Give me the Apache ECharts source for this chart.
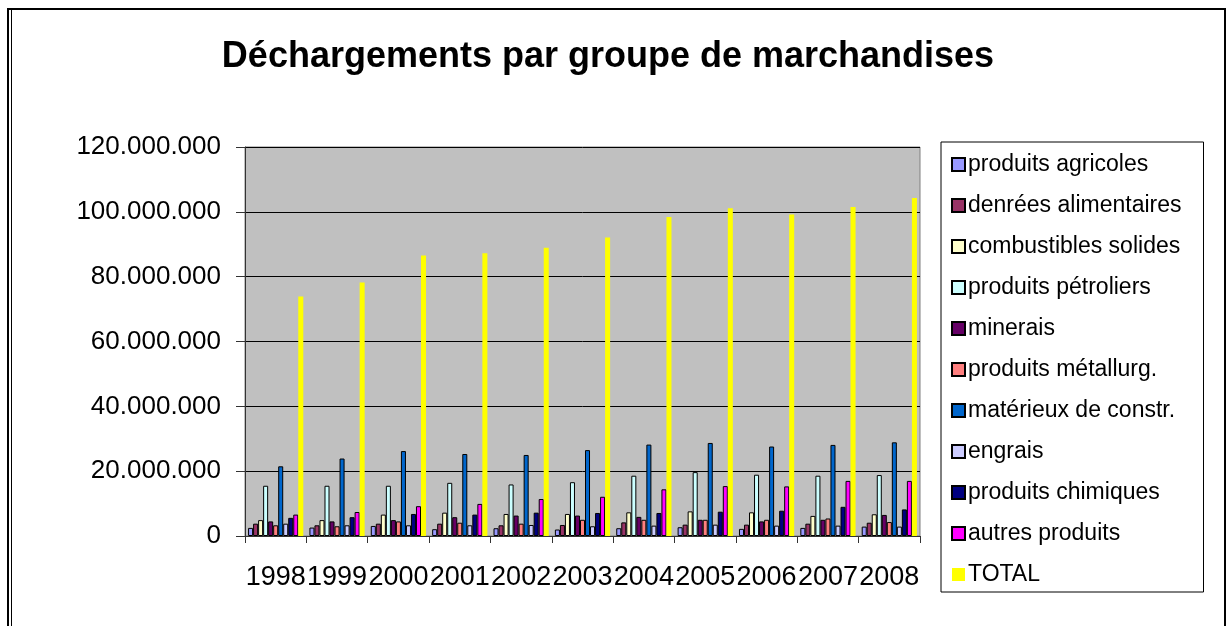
<!DOCTYPE html>
<html>
<head>
<meta charset="utf-8">
<script src="https://cdn.jsdelivr.net/npm/echarts@6/dist/echarts.min.js"></script>
<style>
  html, body { margin: 0; padding: 0; background: #fff; }
  #chart { width: 1229px; height: 626px; }
</style>
</head>
<body>
<div id="chart"></div>
<script>
var years = ['1998', '1999', '2000', '2001', '2002', '2003', '2004', '2005', '2006', '2007', '2008']

var produitsAgricoles = [2500000, 2600000, 3100000, 2100000, 2400000, 2000000, 2400000, 2700000, 2200000, 2500000, 2900000]
var denreesAlimentaires = [3800000, 3300000, 3800000, 3800000, 3300000, 3400000, 4200000, 3500000, 3500000, 3800000, 4100000]
var combustiblesSolides = [4900000, 4900000, 6600000, 7200000, 6800000, 6800000, 7300000, 7600000, 7300000, 6200000, 6700000]
var produitsPetroliers = [15500000, 15500000, 15500000, 16400000, 15900000, 16600000, 18600000, 19700000, 18900000, 18600000, 18800000]
var minerais = [4500000, 4500000, 4900000, 5800000, 6300000, 6300000, 5900000, 5000000, 4500000, 5000000, 6500000]
var produitsMetallurg = [3300000, 3000000, 4500000, 4100000, 3800000, 5000000, 5000000, 5000000, 5000000, 5400000, 4300000]
var materiauxConstr = [21500000, 23900000, 26200000, 25300000, 25000000, 26500000, 28200000, 28700000, 27600000, 28100000, 28900000]
var engrais = [3800000, 3300000, 3300000, 3300000, 3400000, 3000000, 3200000, 3500000, 3200000, 3200000, 2900000]
var produitsChimiques = [5600000, 5800000, 6800000, 6600000, 7200000, 7100000, 7100000, 7500000, 7800000, 9000000, 8200000]
var autresProduits = [6600000, 7400000, 9200000, 9900000, 11400000, 12100000, 14400000, 15400000, 15300000, 17000000, 17000000]
var total = [73900000, 78200000, 86500000, 87200000, 88900000, 92100000, 98400000, 101100000, 99200000, 101500000, 104300000]

var seriesDefs = [
  ['produits agricoles', produitsAgricoles, '#9999FF'],
  ['denrées alimentaires', denreesAlimentaires, '#993366'],
  ['combustibles solides', combustiblesSolides, '#FFFFCC'],
  ['produits pétroliers', produitsPetroliers, '#CCFFFF'],
  ['minerais', minerais, '#660066'],
  ['produits métallurg.', produitsMetallurg, '#FF8080'],
  ['matérieux de constr.', materiauxConstr, '#0066CC'],
  ['engrais', engrais, '#CCCCFF'],
  ['produits chimiques', produitsChimiques, '#000080'],
  ['autres produits', autresProduits, '#FF00FF'],
  ['TOTAL', total, '#FFFF00']
]

// 120000000 -> "120.000.000"
function fmt (v) {
  return String(v).replace(/\B(?=(\d{3})+(?!\d))/g, '.')
}

var myChart = echarts.init(document.getElementById('chart'))
myChart.setOption({
  backgroundColor: '#ffffff',
  animation: false,
  title: {
    text: 'Déchargements par groupe de marchandises',
    left: 603,
    top: 34,
    textAlign: 'center',
    textStyle: {
      fontFamily: 'Liberation Sans',
      fontWeight: 'bold',
      fontSize: 36,
      color: '#000'
    }
  },
  graphic: [
    {
      type: 'rect',
      shape: { x: 8, y: 9, width: 1217, height: 640 },
      style: { fill: null, stroke: '#000', lineWidth: 2 }
    },
    {
      type: 'line',
      shape: { x1: 11.5, y1: 10, x2: 11.5, y2: 626 },
      style: { stroke: '#000', lineWidth: 1 }
    }
  ],
  grid: {
    left: 245,
    right: 309,
    top: 147,
    bottom: 90,
    show: true,
    backgroundColor: '#C0C0C0',
    borderColor: '#808080',
    borderWidth: 1
  },
  legend: {
    orient: 'vertical',
    left: 941,
    top: 142,
    padding: [11, 22, 6, 10],
    itemWidth: 13,
    itemHeight: 13,
    itemGap: 18,
    icon: 'rect',
    selectedMode: false,
    borderColor: '#000',
    borderWidth: 1,
    textStyle: {
      fontFamily: 'Liberation Sans',
      fontSize: 23,
      color: '#000',
      padding: [0, 0, 0, -2]
    },
    data: seriesDefs.map(function (d) { return d[0] })
  },
  xAxis: {
    type: 'category',
    data: years,
    axisLine: { lineStyle: { color: '#333', width: 1 } },
    axisTick: { show: true, length: 7, lineStyle: { color: '#333' } },
    axisLabel: {
      margin: 28,
      interval: 0,
      fontFamily: 'Liberation Sans',
      fontSize: 27,
      color: '#000'
    }
  },
  yAxis: {
    type: 'value',
    min: 0,
    max: 120000000,
    interval: 20000000,
    axisLine: { show: true, lineStyle: { color: '#333', width: 1 } },
    axisTick: { show: true, length: 9, lineStyle: { color: '#333' } },
    splitLine: { lineStyle: { color: '#000', width: 1 } },
    axisLabel: {
      margin: 24,
      fontFamily: 'Liberation Sans',
      fontSize: 26,
      color: '#000',
      formatter: function (v) { return fmt(v) }
    }
  },
  series: seriesDefs.map(function (d) {
    var isTotal = d[0] === 'TOTAL'
    return {
      name: d[0],
      type: 'bar',
      data: d[1],
      barGap: '0%',
      barCategoryGap: '10%',
      itemStyle: {
        color: d[2],
        borderColor: isTotal ? d[2] : '#000',
        borderWidth: isTotal ? 0 : 1
      }
    }
  })
})
</script>
</body>
</html>
